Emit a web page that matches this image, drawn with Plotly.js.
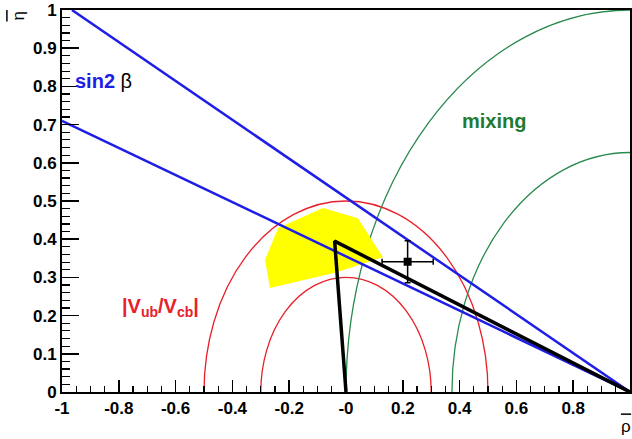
<!DOCTYPE html>
<html><head><meta charset="utf-8">
<script src="https://cdn.plot.ly/plotly-3.0.1.min.js"></script>
<style>html,body{margin:0;padding:0;background:#fff}</style>
</head><body><div id="chart" style="width:632px;height:439px"></div>
<script>
// ---- data ----
const xTickVals = [-1, -0.8, -0.6, -0.4, -0.2, 0, 0.2, 0.4, 0.6, 0.8, 1];
const xTickText = ["-1", "-0.8", "-0.6", "-0.4", "-0.2", "-0", "0.2", "0.4", "0.6", "0.8", "1"];
const yTickVals = [0, 0.1, 0.2, 0.3, 0.4, 0.5, 0.6, 0.7, 0.8, 0.9, 1];
const yTickText = ["0", "0.1", "0.2", "0.3", "0.4", "0.5", "0.6", "0.7", "0.8", "0.9", "1"];

const sin2bUpperX = [-0.965, 1];
const sin2bUpperY = [1, 0];
const sin2bLowerX = [-1, 1];
const sin2bLowerY = [0.71, 0];

const vubCenter = [0, 0];
const vubRadii = [0.3, 0.5];
const mixCenter = [1, 0];
const mixRadii = [0.627, 1.0];

const fitX = [-0.268, -0.285, -0.239, -0.081, 0.042, 0.074, 0.130, -0.039, -0.268];
const fitY = [0.272, 0.346, 0.429, 0.482, 0.455, 0.419, 0.353, 0.312, 0.272];

const triX = [0, -0.04, 1];
const triY = [0, 0.395, 0];

const measX = [0.217];
const measY = [0.341];
const measXErr = [0.09];
const measYErr = [0.055];

// ---- traces ----
const blue = '#1e1ee6';
const red = '#e8202a';
const green = '#2a8a4e';

const traces = [
  {x: fitX, y: fitY, mode: 'lines', fill: 'toself', fillcolor: '#ffff00',
   line: {width: 0, color: '#ffff00'}, hoverinfo: 'skip'},
  {x: sin2bUpperX, y: sin2bUpperY, mode: 'lines', line: {color: blue, width: 2.5}},
  {x: sin2bLowerX, y: sin2bLowerY, mode: 'lines', line: {color: blue, width: 2.5}},
  {x: triX, y: triY, mode: 'lines', line: {color: 'black', width: 3.5}},
  {x: measX, y: measY, mode: 'markers',
   marker: {symbol: 'square', size: 8, color: 'black'},
   error_x: {type: 'data', array: measXErr, visible: true, color: 'black', thickness: 1.5, width: 3},
   error_y: {type: 'data', array: measYErr, visible: true, color: 'black', thickness: 1.5, width: 3}}
];

const shapes = [];
vubRadii.forEach(r => shapes.push({type: 'circle', xref: 'x', yref: 'y',
  x0: vubCenter[0] - r, x1: vubCenter[0] + r, y0: vubCenter[1] - r, y1: vubCenter[1] + r,
  line: {color: red, width: 1.3}, layer: 'between'}));
mixRadii.forEach(r => shapes.push({type: 'circle', xref: 'x', yref: 'y',
  x0: mixCenter[0] - r, x1: mixCenter[0] + r, y0: mixCenter[1] - r, y1: mixCenter[1] + r,
  line: {color: green, width: 1.3}, layer: 'between'}));
// overline bars of the axis titles
shapes.push({type: 'line', xref: 'paper', yref: 'paper', x0: 0.984, x1: 1.002, y0: -0.058, y1: -0.058,
  line: {color: 'black', width: 1.5}});
shapes.push({type: 'line', xref: 'paper', yref: 'paper', x0: -0.097, x1: -0.097, y0: 1.0, y1: 0.97,
  line: {color: 'black', width: 1.5}});

const font = 'Liberation Sans, Arial, sans-serif';

const annotations = [
  {xref: 'x', yref: 'y', x: -0.96, y: 0.815, xanchor: 'left', yanchor: 'middle', showarrow: false,
   text: '<b>sin2</b><span style="color:#000"> β</span>', font: {family: font, size: 20, color: blue}},
  {xref: 'x', yref: 'y', x: 0.52, y: 0.71, xanchor: 'center', yanchor: 'middle', showarrow: false,
   text: '<b>mixing</b>', font: {family: font, size: 20, color: '#1f7a33'}},
  {xref: 'x', yref: 'y', x: -0.795, y: 0.22, xanchor: 'left', yanchor: 'middle', showarrow: false,
   text: '<b>|V<sub>ub</sub>/V<sub>cb</sub>|</b>', font: {family: font, size: 20, color: red}},
  {xref: 'paper', yref: 'paper', x: 0.993, y: -0.09, xanchor: 'center', yanchor: 'middle', showarrow: false,
   text: 'ρ', font: {family: font, size: 17, color: 'black'}},
  {xref: 'paper', yref: 'paper', x: -0.076, y: 0.985, xanchor: 'center', yanchor: 'middle', showarrow: false,
   textangle: -90, text: 'η', font: {family: font, size: 17, color: 'black'}}
];

const layout = {
  width: 632, height: 439,
  margin: {l: 62, r: 2, t: 10, b: 47, pad: 0},
  paper_bgcolor: '#fff', plot_bgcolor: '#fff',
  showlegend: false,
  font: {family: font, color: 'black'},
  xaxis: {range: [-1, 1], tickmode: 'array', tickvals: xTickVals, ticktext: xTickText,
    ticks: 'inside', ticklen: 12, tickwidth: 1.5, tickcolor: 'black',
    showline: true, linewidth: 2, linecolor: 'black', mirror: true,
    showgrid: false, zeroline: false,
    tickfont: {family: font, size: 17, weight: 'bold', color: 'black'},
    minor: {tickmode: 'linear', tick0: -1, dtick: 0.05, ticks: 'inside', ticklen: 6, tickwidth: 1.2, tickcolor: 'black', showgrid: false}},
  yaxis: {range: [0, 1], tickmode: 'array', tickvals: yTickVals, ticktext: yTickText,
    ticks: 'inside', ticklen: 17, tickwidth: 1.5, tickcolor: 'black',
    showline: true, linewidth: 2, linecolor: 'black', mirror: true,
    showgrid: false, zeroline: false,
    tickfont: {family: font, size: 17, weight: 'bold', color: 'black'},
    minor: {tickmode: 'linear', tick0: 0, dtick: 0.02, ticks: 'inside', ticklen: 8, tickwidth: 1.2, tickcolor: 'black', showgrid: false}},
  shapes: shapes,
  annotations: annotations
};

Plotly.newPlot('chart', traces, layout, {displayModeBar: false, staticPlot: true});
</script></body></html>
